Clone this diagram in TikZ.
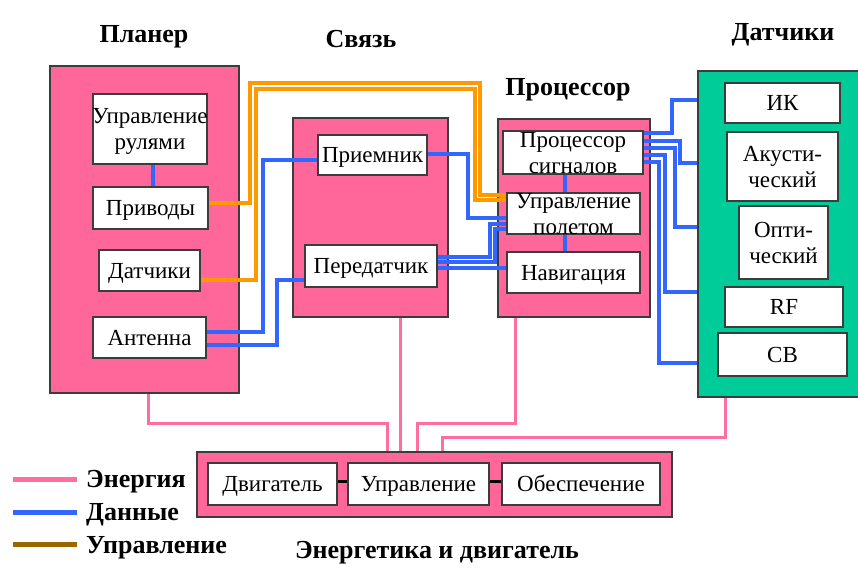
\documentclass[tikz,border=0pt]{standalone}
\usepackage{fontspec}
\setmainfont{Liberation Serif}
\pgfdeclarelayer{back}
\pgfdeclarelayer{mid}
\pgfsetlayers{back,mid,main}
\definecolor{pinkfill}{RGB}{255,102,153}
\definecolor{greenfill}{RGB}{0,204,153}
\definecolor{edgegray}{RGB}{60,60,60}
\definecolor{datablue}{RGB}{51,102,255}
\definecolor{ctrlorange}{RGB}{255,153,0}
\definecolor{energypink}{RGB}{255,110,160}
\definecolor{legbrown}{RGB}{153,102,0}
\newcommand\boxtxt[1]{\makebox[0pt]{\raisebox{-9pt}[0pt][0pt]{\begin{tabular}{@{}c@{}}#1\end{tabular}}}}
\tikzset{
  grp/.style={draw=edgegray, line width=2.2pt, fill=pinkfill, inner sep=0pt},
  grpgreen/.style={grp, fill=greenfill},
  sub/.style={draw=edgegray, line width=2pt, fill=white, inner sep=0pt,
    font=\fontsize{23}{26}\selectfont},
  ttl/.style={font=\fontsize{26}{28}\selectfont\bfseries, inner sep=0pt},
  data/.style={draw=datablue, line width=3.2pt},
  ctrl/.style={draw=ctrlorange, line width=3.2pt},
  energy/.style={draw=energypink, line width=3pt},
  link/.style={draw=black, line width=3pt},
}
\begin{document}
\begin{tikzpicture}[x=1pt,y=-1pt]
\path[use as bounding box, clip] (0,0) rectangle (858,569);

% group boxes
\begin{pgfonlayer}{back}
\fill[white] (0,0) rectangle (858,569);
\node[grp, minimum width=189, minimum height=327] (planer) at (144.5,229.5) {};
\node[grp, minimum width=155, minimum height=199] (svyaz) at (370.5,217.5) {};
\node[grp, minimum width=152, minimum height=198] (proc) at (574,218) {};
\node[grpgreen, minimum width=162, minimum height=326] (sens) at (779,234) {};
\node[grp, minimum width=475, minimum height=65] (en) at (434.5,484.5) {};
\end{pgfonlayer}

% sub boxes
\node[sub, minimum width=114, minimum height=70] (rul) at (150,129) {\boxtxt{Управление\\рулями}};
\node[sub, minimum width=115, minimum height=42] (priv) at (150.5,208) {\boxtxt{Приводы}};
\node[sub, minimum width=101, minimum height=41] (dat) at (149.5,270.5) {\boxtxt{Датчики}};
\node[sub, minimum width=113, minimum height=41] (ant) at (149.5,337.5) {\boxtxt{Антенна}};

\node[sub, minimum width=109, minimum height=40] (prm) at (372.5,155) {\boxtxt{Приемник}};
\node[sub, minimum width=132, minimum height=42] (prd) at (371,266) {\boxtxt{Передатчик}};

\node[sub, minimum width=140, minimum height=43] (ps) at (573,152.5) {\boxtxt{Процессор\\сигналов}};
\node[sub, minimum width=133, minimum height=41] (up) at (573.5,213.5) {\boxtxt{Управление\\полетом}};
\node[sub, minimum width=133, minimum height=41] (nav) at (573.5,272.5) {\boxtxt{Навигация}};

\node[sub, minimum width=115, minimum height=40] (ik) at (782.5,103) {\boxtxt{ИК}};
\node[sub, minimum width=111, minimum height=69] (ak) at (782.5,166.5) {\boxtxt{Акусти-\\ческий}};
\node[sub, minimum width=89, minimum height=73] (opt) at (783.5,242.5) {\boxtxt{Опти-\\ческий}};
\node[sub, minimum width=118, minimum height=40] (rf) at (784,307) {\boxtxt{RF}};
\node[sub, minimum width=129, minimum height=43] (cb) at (782.5,354.5) {\boxtxt{CB}};

\node[sub, minimum width=129, minimum height=42] (dv) at (272.5,484) {\boxtxt{Двигатель}};
\node[sub, minimum width=141, minimum height=42] (upr) at (418.5,484) {\boxtxt{Управление}};
\node[sub, minimum width=158, minimum height=42] (ob) at (581,484) {\boxtxt{Обеспечение}};

% titles
\node[ttl] (tplaner) at (144,37) {Планер};
\node[ttl] (tsvyaz) at (361,39) {Связь};
\node[ttl] (tproc) at (568,90) {Процессор};
\node[ttl] (tsens) at (783,35) {Датчики};
\node[ttl] (ten) at (437,553) {Энергетика и двигатель};

% legend
\coordinate (le1a) at (13,479); \coordinate (le1b) at (77,479);
\coordinate (le2a) at (13,512); \coordinate (le2b) at (77,512);
\coordinate (le3a) at (13,544); \coordinate (le3b) at (77,544);
\node[ttl, anchor=west] (l1) at (86,482) {Энергия};
\node[ttl, anchor=west] (l2) at (86,515) {Данные};
\node[ttl, anchor=west] (l3) at (86,548) {Управление};

\begin{pgfonlayer}{mid}
\draw[energypink, line width=5pt] (le1a) -- (le1b);
\draw[datablue, line width=5pt] (le2a) -- (le2b);
\draw[legbrown, line width=5pt] (le3a) -- (le3b);

% data links
\draw[data] (rul.south -| 153,0) -- (priv.north -| 153,0);
\draw[data] (ant.east |- 0,332) -| (263,160) -- (prm.west |- 0,160);
\draw[data] (ant.east |- 0,345) -| (277,280) -- (prd.west |- 0,280);
\draw[data] (prm.east |- 0,154) -| (468,218) -- (up.west |- 0,218);
\draw[data] (prd.east |- 0,257) -| (490,224) -- (up.west |- 0,224);
\draw[data] (prd.east |- 0,262) -| (495,229) -- (up.west |- 0,229);
\draw[data] (prd.east |- 0,268) -- (nav.west |- 0,268);
\draw[data] (ps.south -| 565,0) -- (up.north -| 565,0);
\draw[data] (up.south -| 565,0) -- (nav.north -| 565,0);
\draw[data] (ps.east |- 0,133) -| (672,100) -- (sens.west |- 0,100);
\draw[data] (ps.east |- 0,141) -| (680,163) -- (sens.west |- 0,163);
\draw[data] (ps.east |- 0,148) -| (675,227) -- (sens.west |- 0,227);
\draw[data] (ps.east |- 0,155) -| (665,292) -- (sens.west |- 0,292);
\draw[data] (ps.east |- 0,162) -| (659,363) -- (sens.west |- 0,363);

% control links
\draw[ctrl] (priv.east |- 0,203) -| (250,83) -| (480,195) -- (up.west |- 0,195);
\draw[ctrl] (dat.east |- 0,280) -| (256,89) -| (475,200) -- (up.west |- 0,200);

% energy links
\draw[energy] (planer.south -| 148,0) |- (387,423) -- (en.north -| 387,0);
\draw[energy] (svyaz.south -| 400,0) -- (en.north -| 400,0);
\draw[energy] (proc.south -| 515,0) |- (417,423) -- (en.north -| 417,0);
\draw[energy] (sens.south -| 725,0) |- (442,437) -- (en.north -| 442,0);
\end{pgfonlayer}

\draw[link] (dv.east |- 0,481) -- (upr.west |- 0,481);
\draw[link] (upr.east |- 0,481) -- (ob.west |- 0,481);
\end{tikzpicture}
\end{document}
